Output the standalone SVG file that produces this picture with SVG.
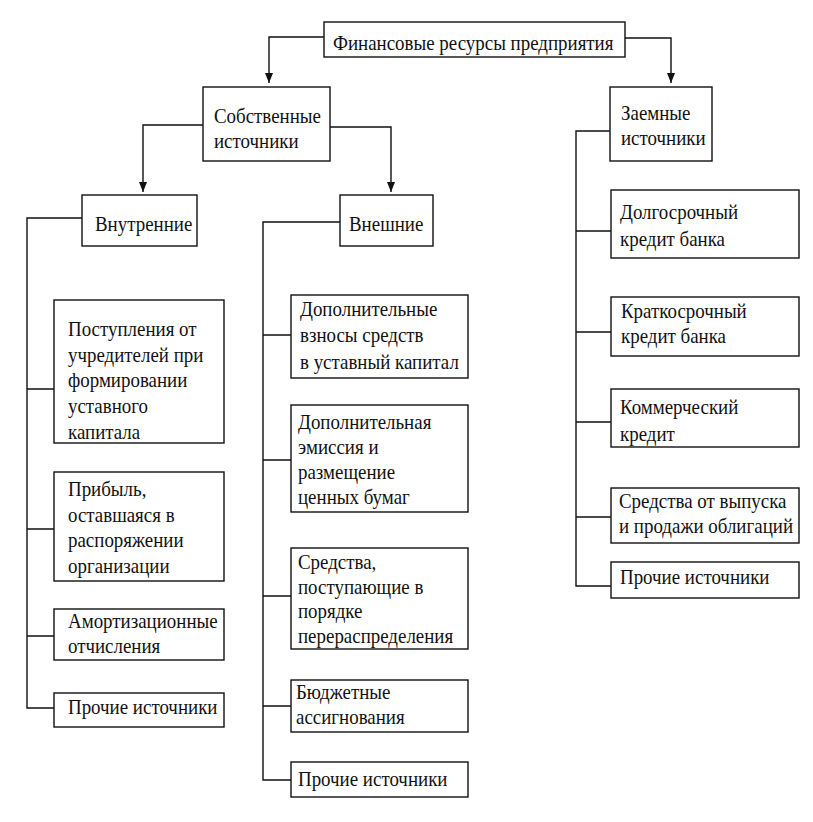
<svg xmlns="http://www.w3.org/2000/svg" width="813" height="822" viewBox="0 0 813 822">
<defs>
<style>
rect{fill:#fff;stroke:#111;stroke-width:1.4}
.c{fill:none;stroke:#111;stroke-width:1.4}
</style>
<marker id="ah" viewBox="0 0 10 8" refX="10" refY="4" markerWidth="10" markerHeight="8" markerUnits="userSpaceOnUse" orient="auto">
<path d="M0,0 L10,4 L0,8 z" fill="#111"/>
</marker>
</defs>
<rect x="0" y="0" width="813" height="822" style="fill:#fff;stroke:none"/>
<g id="connectors">
<path class="c" d="M324 37 H269 V83" marker-end="url(#ah)"/>
<path class="c" d="M625 38 H671 V83" marker-end="url(#ah)"/>
<path class="c" d="M203 125 H143 V192" marker-end="url(#ah)"/>
<path class="c" d="M330 127 H391 V192" marker-end="url(#ah)"/>
<path class="c" d="M82 218 H27 V708 H54 M27 389 H54 M27 529 H54 M27 636 H54"/>
<path class="c" d="M340 222 H263 V780 H291 M263 335 H291 M263 460 H291 M263 596 H291 M263 706 H291"/>
<path class="c" d="M610 131 H576 V586 H611 M576 231 H611 M576 332 H611 M576 422 H611 M576 517 H611"/>
</g>
<g font-family="Liberation Serif" font-size="21.5" fill="#111">
<g id="n-root"><rect x="324" y="22" width="301" height="35"/><text transform="translate(333 50) scale(0.88 1)">Финансовые ресурсы предприятия</text></g>
<g id="n-own"><rect x="203" y="87" width="127" height="74"/><text transform="translate(214 123) scale(0.88 1)"><tspan x="0">Собственные</tspan><tspan x="0" dy="25">источники</tspan></text></g>
<g id="n-borrowed"><rect x="610" y="87" width="102" height="74"/><text transform="translate(621 120) scale(0.88 1)"><tspan x="0">Заемные</tspan><tspan x="0" dy="25">источники</tspan></text></g>
<g id="n-internal"><rect x="82" y="195" width="115" height="51"/><text transform="translate(95 231) scale(0.88 1)">Внутренние</text></g>
<g id="n-external"><rect x="340" y="195" width="93" height="51"/><text transform="translate(349 231) scale(0.88 1)">Внешние</text></g>

<g id="n-i1"><rect x="54" y="300" width="170" height="143"/><text transform="translate(68 336) scale(0.88 1)"><tspan x="0">Поступления от</tspan><tspan x="0" dy="25.7">учредителей при</tspan><tspan x="0" dy="25.7">формировании</tspan><tspan x="0" dy="25.7">уставного</tspan><tspan x="0" dy="25.7">капитала</tspan></text></g>
<g id="n-i2"><rect x="54" y="472" width="170" height="109"/><text transform="translate(68 496) scale(0.88 1)"><tspan x="0">Прибыль,</tspan><tspan x="0" dy="25.7">оставшаяся в</tspan><tspan x="0" dy="25.7">распоряжении</tspan><tspan x="0" dy="25.7">организации</tspan></text></g>
<g id="n-i3"><rect x="54" y="609" width="170" height="51"/><text transform="translate(68 628) scale(0.88 1)"><tspan x="0">Амортизационные</tspan><tspan x="0" dy="25">отчисления</tspan></text></g>
<g id="n-i4"><rect x="54" y="693" width="170" height="34"/><text transform="translate(68 714) scale(0.88 1)">Прочие источники</text></g>

<g id="n-e1"><rect x="291" y="295" width="177" height="83"/><text transform="translate(300 316) scale(0.88 1)"><tspan x="0">Дополнительные</tspan><tspan x="0" dy="26.5">взносы средств</tspan><tspan x="0" dy="26.5">в уставный капитал</tspan></text></g>
<g id="n-e2"><rect x="291" y="405" width="177" height="107"/><text transform="translate(298 429) scale(0.88 1)"><tspan x="0">Дополнительная</tspan><tspan x="0" dy="25">эмиссия и</tspan><tspan x="0" dy="25">размещение</tspan><tspan x="0" dy="25">ценных бумаг</tspan></text></g>
<g id="n-e3"><rect x="291" y="548" width="177" height="101"/><text transform="translate(298 569) scale(0.88 1)"><tspan x="0">Средства,</tspan><tspan x="0" dy="24.7">поступающие в</tspan><tspan x="0" dy="24.7">порядке</tspan><tspan x="0" dy="24.7">перераспределения</tspan></text></g>
<g id="n-e4"><rect x="291" y="680" width="177" height="52"/><text transform="translate(296 699) scale(0.88 1)"><tspan x="0">Бюджетные</tspan><tspan x="0" dy="25">ассигнования</tspan></text></g>
<g id="n-e5"><rect x="291" y="762" width="177" height="35"/><text transform="translate(298 786) scale(0.88 1)">Прочие источники</text></g>

<g id="n-b1"><rect x="611" y="190" width="188" height="68"/><text transform="translate(620 219) scale(0.88 1)"><tspan x="0">Долгосрочный</tspan><tspan x="0" dy="27">кредит банка</tspan></text></g>
<g id="n-b2"><rect x="611" y="297" width="188" height="59"/><text transform="translate(621 318) scale(0.88 1)"><tspan x="0">Краткосрочный</tspan><tspan x="0" dy="25">кредит банка</tspan></text></g>
<g id="n-b3"><rect x="611" y="389" width="188" height="58"/><text transform="translate(620 414) scale(0.88 1)"><tspan x="0">Коммерческий</tspan><tspan x="0" dy="27">кредит</tspan></text></g>
<g id="n-b4"><rect x="611" y="488" width="188" height="55"/><text transform="translate(619 508) scale(0.88 1)"><tspan x="0">Средства от выпуска</tspan><tspan x="0" dy="25">и продажи облигаций</tspan></text></g>
<g id="n-b5"><rect x="611" y="562" width="188" height="36"/><text transform="translate(620 584) scale(0.88 1)">Прочие источники</text></g>
</g>
</svg>
